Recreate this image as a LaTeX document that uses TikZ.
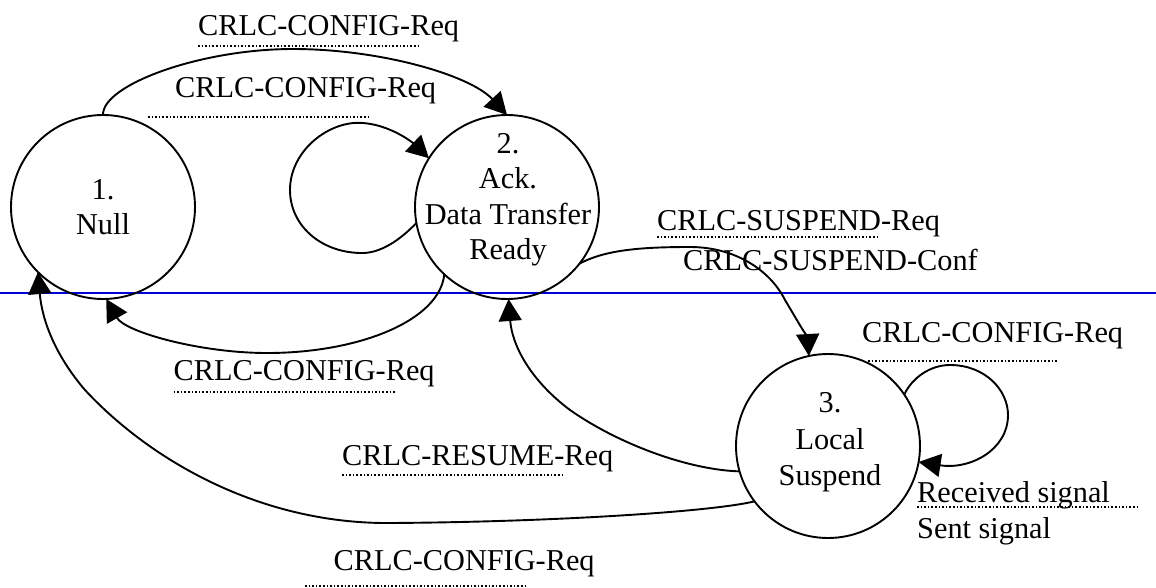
\documentclass[tikz,border=0pt]{standalone}
\usepackage{fontspec}
\setmainfont{Liberation Serif}
\usetikzlibrary{arrows.meta}
\definecolor{sepblue}{RGB}{0,0,220}
\begin{document}
\begin{tikzpicture}[x=1pt,y=-1pt,
  state/.style={circle, draw, line width=1.9pt, minimum size=184pt, inner sep=0pt, outer sep=0pt},
  txt/.style={inner sep=0pt, anchor=base, font=\fontsize{30.3}{35.5}\selectfont},
  lbl/.style={inner sep=0pt, anchor=base west, font=\fontsize{30.3}{35.5}\selectfont},
  edgearrow/.style={line width=1.9pt, -{Triangle[length=22pt,width=23pt]}},
  dotline/.style={line width=1.4pt, dash pattern=on 1.6pt off 2pt},
  sepline/.style={line width=1.3pt, draw=sepblue}
]
\fill[white] (0,0) rectangle (1156,587);
\useasboundingbox (0,0) rectangle (1156,587);

% separator
\coordinate (sepL) at (0,293);
\coordinate (sepR) at (1156,293);
\draw[sepline] (sepL) -- (sepR);

% states
\node[state] (n1) at (103,207) {};
\node[state] (n2) at (507,207) {};
\node[state] (n3) at (828,446) {};

\node[txt] (t1a) at (103,199) {1.};
\node[txt] (t1b) at (103,234) {Null};
\node[txt] (t2a) at (508,153) {2.};
\node[txt] (t2b) at (508,188) {Ack.};
\node[txt] (t2c) at (508,224) {Data Transfer};
\node[txt] (t2d) at (508,259) {Ready};
\node[txt] (t3a) at (830,412) {3.};
\node[txt] (t3b) at (830,449) {Local};
\node[txt] (t3c) at (830,485) {Suspend};

% transitions
\draw[edgearrow] (n1.90) .. controls (102,85) and (200,49) .. (293,49)
  .. controls (380,49) and (470,75) .. (n2.90);
\draw[edgearrow] (n2.190) .. controls (400,240) and (380,254) .. (360,253)
  .. controls (320,252) and (290,225) .. (290,190)
  .. controls (290,150) and (330,120) .. (363,123)
  .. controls (390,125) and (412,142) .. (n2.148);
\draw[edgearrow] (n2.227) .. controls (440,320) and (360,353) .. (267,353)
  .. controls (200,353) and (125,332) .. (n1.272);
\draw[edgearrow] (n2.322) .. controls (605,250) and (640,247) .. (690,247)
  .. controls (735,247) and (770,270) .. (785,300)
  .. controls (800,325) and (808,340) .. (n3.102);
\draw[edgearrow] (n3.196) .. controls (690,470) and (620,445) .. (570,410)
  .. controls (530,380) and (512,345) .. (n2.271);
\draw[edgearrow] (n3.217) .. controls (710,512) and (550,522) .. (390,523)
  .. controls (260,524) and (150,460) .. (85,390)
  .. controls (55,355) and (42,320) .. (n1.225);
\draw[edgearrow] (n3.34) .. controls (912,378) and (930,365) .. (950,365)
  .. controls (985,365) and (1008,390) .. (1008,415)
  .. controls (1008,450) and (970,470) .. (n3.350);

% labels
\node[lbl] (l1) at (198,35) {CRLC-CONFIG-Req};
\draw[dotline] ([yshift=-11pt]l1.base west) -- ++(223,0);
\node[lbl] (l2) at (175,97) {CRLC-CONFIG-Req};
\draw[dotline] ([xshift=-27pt,yshift=-20pt]l2.base west) -- ++(223,0);
\node[lbl] (l3) at (657,230) {CRLC-SUSPEND-Req};
\draw[dotline] ([yshift=-7pt]l3.base west) -- ++(221,0);
\node[lbl] (l4) at (683,270) {CRLC-SUSPEND-Conf};
\node[lbl] (l5) at (862,342) {CRLC-CONFIG-Req};
\draw[dotline] ([xshift=6pt,yshift=-19pt]l5.base west) -- ++(190,0);
\node[lbl] (l6) at (917,502) {Received signal};
\draw[dotline] ([yshift=-5pt]l6.base west) -- ++(221,0);
\node[lbl] (l7) at (917,538) {Sent signal};
\node[lbl] (l8) at (173.5,380) {CRLC-CONFIG-Req};
\draw[dotline] ([yshift=-12pt]l8.base west) -- ++(222.5,0);
\node[lbl] (l9) at (342,465) {CRLC-RESUME-Req};
\draw[dotline] ([yshift=-10pt]l9.base west) -- ++(222,0);
\node[lbl] (l10) at (333.5,570) {CRLC-CONFIG-Req};
\draw[dotline] ([xshift=-28.5pt,yshift=-16pt]l10.base west) -- ++(223,0);
\end{tikzpicture}
\end{document}
